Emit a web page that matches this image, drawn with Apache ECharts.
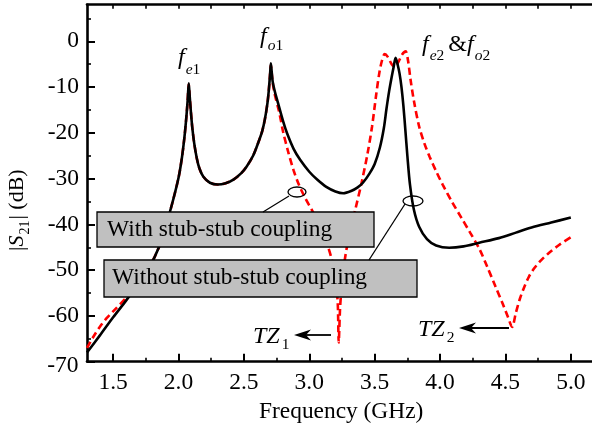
<!DOCTYPE html>
<html>
<head>
<meta charset="utf-8">
<script src="https://cdn.jsdelivr.net/npm/echarts@6/dist/echarts.min.js"></script>
<style>
  html, body { margin: 0; padding: 0; background: #fff; }
  #chart { width: 592px; height: 425px; }
</style>
</head>
<body>
<div id="chart"></div>
<script>
const FONT = 'Liberation Serif';

// Axis ticks
const xTicks = [1.5, 2.0, 2.5, 3.0, 3.5, 4.0, 4.5, 5.0];
const xMinorTicks = [1.75, 2.25, 2.75, 3.25, 3.75, 4.25, 4.75];
const xTopTicks = [1.5, 1.75, 2.0, 2.25, 2.5, 2.75, 3.0, 3.25, 3.5, 3.75, 4.0, 4.25, 4.5, 4.75, 5.0];
const yTicks = [-70, -60, -50, -40, -30, -20, -10, 0];
const yMinorTicks = [-65, -55, -45, -35, -25, -15, -5, 5];
const yCornerLabel = -70;   // drawn slightly lower, clear of the x labels

// |S21| with stub-stub coupling (GHz, dB)
const freqWith = [1.30, 1.40, 1.50, 1.60, 1.70, 1.78, 1.85, 1.90, 1.95, 2.00,
  2.025, 2.045, 2.06, 2.07, 2.078, 2.085, 2.095, 2.105, 2.12, 2.14,
  2.16, 2.19, 2.24, 2.30, 2.36, 2.42, 2.48, 2.52, 2.57, 2.61,
  2.64, 2.66, 2.68, 2.69, 2.70, 2.706, 2.712, 2.72, 2.735, 2.76,
  2.80, 2.83, 2.88, 2.93, 3.00, 3.06, 3.13, 3.20, 3.26, 3.32,
  3.37, 3.41, 3.46, 3.50, 3.54, 3.57, 3.59, 3.61, 3.63, 3.645,
  3.66, 3.675, 3.69, 3.705, 3.72, 3.735, 3.75, 3.77, 3.80, 3.84,
  3.90, 3.97, 4.07, 4.18, 4.30, 4.45, 4.58, 4.70, 4.85, 5.00];
const s21With = [-68, -64.2, -60.3, -56.6, -52.7, -49.2, -45.0, -40.6, -35.6, -29.8,
  -25.6, -21, -16.5, -12.8, -9.2, -11.8, -15.6, -18.8, -22.3, -25.6,
  -27.8, -29.6, -30.9, -31.3, -31.0, -30.2, -28.8, -27.4, -25.0, -22.1,
  -19.6, -17.1, -13.5, -10.8, -7.2, -4.8, -6.5, -8.8, -10.8, -13.4,
  -17.5, -20.1, -23.5, -25.9, -28.5, -30.2, -31.8, -32.8, -33.2, -32.7,
  -31.9, -30.9, -28.9, -26.8, -23.2, -19, -14.8, -11.0, -7.8, -5.6,
  -3.6, -5.0, -7.0, -10.0, -14.2, -19.5, -25, -31.3, -36.8, -40.5,
  -43.2, -44.6, -45.1, -44.8, -44.0, -43.0, -41.8, -40.7, -39.6, -38.5];

// |S21| without stub-stub coupling (GHz, dB)
const freqWithout = [1.30, 1.35, 1.40, 1.45, 1.50, 1.60, 1.70, 1.78,
  1.85, 1.90, 1.95, 2.00, 2.025, 2.045, 2.06, 2.07, 2.078, 2.085,
  2.095, 2.105, 2.12, 2.14, 2.16, 2.19, 2.24, 2.30, 2.36, 2.42,
  2.48, 2.52, 2.57, 2.61, 2.64, 2.66, 2.68, 2.69, 2.70, 2.706,
  2.712, 2.72, 2.735, 2.77, 2.80, 2.84, 2.88, 2.92, 2.97, 3.03,
  3.09, 3.14, 3.18, 3.205, 3.218, 3.225, 3.235, 3.245, 3.26, 3.286,
  3.35, 3.40, 3.445, 3.48, 3.51, 3.535, 3.555, 3.577, 3.60, 3.63,
  3.653, 3.68, 3.71, 3.737, 3.755, 3.775, 3.80, 3.84, 3.88, 3.92,
  3.97, 4.02, 4.09, 4.16, 4.23, 4.30, 4.36, 4.42, 4.48, 4.52,
  4.551, 4.58, 4.61, 4.645, 4.68, 4.72, 4.77, 4.83, 4.91, 5.00];
const s21Without = [-67, -64.5, -62.3, -60.5, -59, -56, -52.6, -49.2,
  -45.0, -40.6, -35.6, -29.8, -25.6, -21, -16.5, -12.8, -9.4, -11.8,
  -15.6, -18.8, -22.3, -25.6, -27.8, -29.6, -30.9, -31.3, -31.0, -30.2,
  -28.8, -27.4, -25.0, -22.1, -19.6, -17.1, -13.5, -10.8, -7.3, -5.2,
  -6.8, -9.0, -11.5, -15.5, -19.8, -24.3, -28.2, -31.3, -34.3, -37.4,
  -41, -44.6, -48.6, -53, -57.5, -65.8, -58.5, -54.5, -50.2, -45.2,
  -37, -30.9, -24.6, -18.6, -12, -7, -4.3, -2.8, -3.4, -5,
  -5.6, -4.6, -2.9, -2.2, -4.2, -8.5, -13, -18.6, -22.3, -25.2,
  -28.4, -31.3, -35, -38.4, -41.8, -45.3, -49.2, -53.3, -57.4, -60.3,
  -62.4, -59.3, -56.3, -53.6, -51.4, -49.6, -47.9, -46.3, -44.5, -42.8];

const zip = (xs, ys) => xs.map((x, i) => [x, ys[i]]);

// text measuring for runs of mixed-size text (subscripts)
const mctx = document.createElement('canvas').getContext('2d');
function fontStr(p) { return (p.it ? 'italic ' : '') + p.s + 'px "' + FONT + '"'; }
function measure(p) { mctx.font = fontStr(p); return mctx.measureText(p.t).width; }

// lays out text pieces left to right along a shared baseline
function run(x0, base, parts, z) {
  let x = x0;
  const out = [];
  parts.forEach(p => {
    out.push({
      type: 'text', x: x, y: base + (p.dy || 0) - 0.3375 * p.s, z: z || 100,
      style: {
        text: p.t, fontFamily: FONT, fontSize: p.s,
        fontStyle: p.it ? 'italic' : 'normal', fill: '#000',
        align: 'left', verticalAlign: 'middle'
      }
    });
    x += measure(p) + (p.gap || 0);
  });
  return out;
}

function arrow(tipX, y, tailX) {
  return [
    { type: 'line', z: 100, shape: { x1: tipX + 10, y1: y, x2: tailX, y2: y }, style: { stroke: '#000', lineWidth: 1.8 } },
    { type: 'polygon', z: 100, shape: { points: [[tipX, y], [tipX + 17, y - 5.5], [tipX + 12, y], [tipX + 17, y + 5.5]] }, style: { fill: '#000' } }
  ];
}

const graphics = [];

// legend boxes
graphics.push({ type: 'rect', z: 90, shape: { x: 97, y: 212, width: 277, height: 35 }, style: { fill: '#c0c0c0', stroke: '#000', lineWidth: 1.3 } });
graphics.push(...run(107, 238, [{ t: 'With stub-stub coupling', s: 23.4 }], 91));
graphics.push({ type: 'rect', z: 90, shape: { x: 104, y: 260, width: 313, height: 37 }, style: { fill: '#c0c0c0', stroke: '#000', lineWidth: 1.3 } });
graphics.push(...run(112, 285.5, [{ t: 'Without stub-stub coupling', s: 23.4 }], 91));

// leader lines with loops around the curves
graphics.push({ type: 'line', z: 92, shape: { x1: 263, y1: 212, x2: 289, y2: 196 }, style: { stroke: '#000', lineWidth: 1.3 } });
graphics.push({ type: 'ellipse', z: 92, shape: { cx: 297, cy: 192, rx: 9, ry: 5 }, style: { stroke: '#000', fill: 'none', lineWidth: 1.3 } });
graphics.push({ type: 'line', z: 92, shape: { x1: 369, y1: 260, x2: 405, y2: 204 }, style: { stroke: '#000', lineWidth: 1.3 } });
graphics.push({ type: 'ellipse', z: 92, shape: { cx: 413, cy: 201, rx: 10, ry: 5 }, style: { stroke: '#000', fill: 'none', lineWidth: 1.3 } });

// resonance labels
graphics.push(...run(178, 66, [{ t: 'f', s: 24, it: true, gap: 1 }, { t: 'e', s: 15.5, it: true, dy: 9 }, { t: '1', s: 15.5, dy: 9 }]));
graphics.push(...run(260, 45, [{ t: 'f', s: 24, it: true, gap: 1 }, { t: 'o', s: 15.5, it: true, dy: 6 }, { t: '1', s: 15.5, dy: 6 }]));
graphics.push(...run(422, 53, [{ t: 'f', s: 24, it: true, gap: 1 }, { t: 'e', s: 15.5, it: true, dy: 8 }, { t: '2', s: 15.5, dy: 8, gap: 4 },
  { t: '&', s: 24 }, { t: 'f', s: 24, it: true, gap: 1 }, { t: 'o', s: 15.5, it: true, dy: 8 }, { t: '2', s: 15.5, dy: 8 }]));

// transmission zeros
graphics.push(...run(253, 345, [{ t: 'TZ', s: 24, it: true, gap: 2 }, { t: '1', s: 15.5, dy: 5 }]));
graphics.push(...arrow(294, 335, 331));
graphics.push(...run(418, 338, [{ t: 'TZ', s: 24, it: true, gap: 2 }, { t: '2', s: 15.5, dy: 5 }]));
graphics.push(...arrow(459, 328, 509));

// axis titles
graphics.push(...run(259, 420, [{ t: 'Frequency (GHz)', s: 23.4 }]));
graphics.push({
  type: 'group', x: 25, y: 251, rotation: Math.PI / 2,
  children: run(0, 0, [{ t: '|', s: 22 }, { t: 'S', s: 22, it: true, gap: 1 }, { t: '21', s: 14, dy: 5, gap: 1 },
    { t: '|', s: 22 }, { t: ' (dB)', s: 22 }])
});
// bottom-left y label, nudged below its tick
graphics.push({
  type: 'text', x: 78.5, y: 365.5, z: 100,
  style: { text: String(yCornerLabel), fontFamily: FONT, fontSize: 23.5, fill: '#000', align: 'right', verticalAlign: 'middle' }
});

const xBase = { type: 'value', min: 1.3, max: 5.162, splitLine: { show: false } };
const yBase = { type: 'value', min: -70, max: 8, splitLine: { show: false } };
const labelStyle = { fontFamily: FONT, fontSize: 23.5, color: '#000' };

const option = {
  animation: false,
  backgroundColor: '#fff',
  grid: { left: 87, right: 0, top: 4.7, bottom: 63.3, containLabel: false },
  xAxis: [
    Object.assign({}, xBase, {
      position: 'bottom',
      axisLine: { show: true, onZero: false, lineStyle: { color: '#000', width: 2.6 } },
      axisTick: { show: true, inside: true, length: 8, customValues: xTicks, lineStyle: { color: '#000', width: 2 } },
      axisLabel: Object.assign({ show: true, margin: 9, customValues: xTicks, formatter: v => v.toFixed(1) }, labelStyle)
    }),
    Object.assign({}, xBase, {
      position: 'bottom',
      axisLine: { show: false, onZero: false },
      axisTick: { show: true, inside: true, length: 4, customValues: xMinorTicks, lineStyle: { color: '#000', width: 1.6 } },
      axisLabel: { show: false }
    }),
    Object.assign({}, xBase, {
      position: 'top',
      axisLine: { show: true, onZero: false, lineStyle: { color: '#000', width: 2.6 } },
      axisTick: { show: true, inside: true, length: 4, customValues: xTopTicks, lineStyle: { color: '#000', width: 1.6 } },
      axisLabel: { show: false }
    })
  ],
  yAxis: [
    Object.assign({}, yBase, {
      position: 'left',
      axisLine: { show: true, onZero: false, lineStyle: { color: '#000', width: 2.6 } },
      axisTick: { show: true, inside: true, length: 8, customValues: yTicks, lineStyle: { color: '#000', width: 2 } },
      axisLabel: Object.assign({ show: true, margin: 8, customValues: yTicks.filter(v => v !== yCornerLabel), formatter: v => String(v) }, labelStyle)
    }),
    Object.assign({}, yBase, {
      position: 'left',
      axisLine: { show: false, onZero: false },
      axisTick: { show: true, inside: true, length: 4, customValues: yMinorTicks, lineStyle: { color: '#000', width: 1.6 } },
      axisLabel: { show: false }
    })
  ],
  series: [
    {
      type: 'line', name: 'Without stub-stub coupling', xAxisIndex: 0, yAxisIndex: 0,
      data: zip(freqWithout, s21Without), showSymbol: false, smooth: 0.3, z: 2,
      lineStyle: { color: '#ff0000', width: 2.6, type: [7, 4] }
    },
    {
      type: 'line', name: 'With stub-stub coupling', xAxisIndex: 0, yAxisIndex: 0,
      data: zip(freqWith, s21With), showSymbol: false, smooth: 0.3, z: 3,
      lineStyle: { color: '#000', width: 2.6 }
    }
  ],
  graphic: graphics
};

const chart = echarts.init(document.getElementById('chart'), null, { renderer: 'canvas' });
chart.setOption(option);
</script>
</body>
</html>
